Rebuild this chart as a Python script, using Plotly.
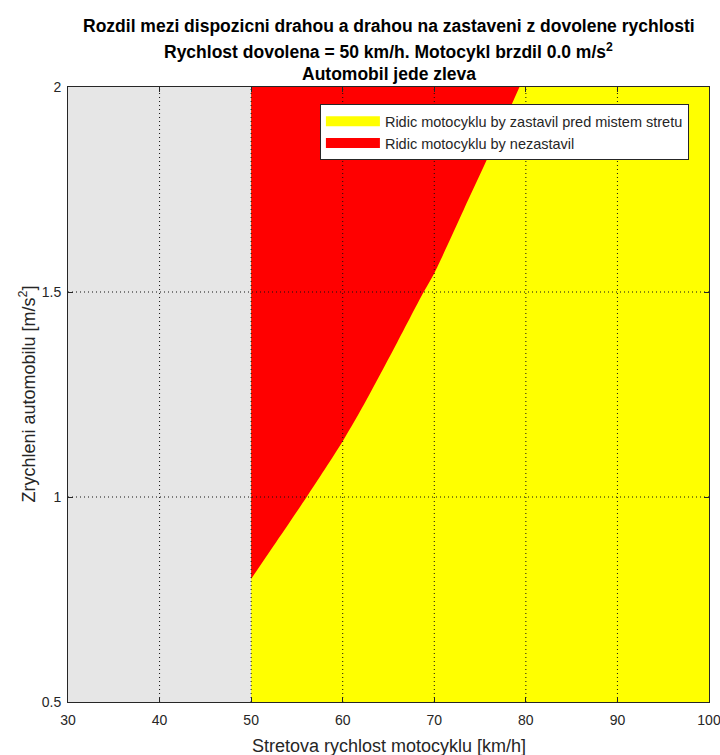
import plotly.graph_objects as go

# Axis extents and ticks
speed_range = [30, 100]
accel_range = [0.5, 2.0]
speed_ticks = [30, 40, 50, 60, 70, 80, 90, 100]
accel_ticks = [0.5, 1.0, 1.5, 2.0]
accel_tick_labels = ["0.5", "1", "1.5", "2"]

# Allowed speed: below it the comparison is not defined
allowed_speed = 50

# Boundary between "stops in time" and "does not stop"
speed_kmh = [50, 52.4, 56.06, 60, 62.6, 65.6, 68.84, 70, 73.2, 76.1, 79.3]
accel_threshold = [0.80, 0.879, 1.0, 1.136, 1.237, 1.362, 1.5, 1.546, 1.70, 1.84, 2.0]

legend_names = ["Ridic motocyklu by zastavil pred mistem stretu",
                "Ridic motocyklu by nezastavil"]
title_lines = ["Rozdil mezi dispozicni drahou a drahou na zastaveni z dovolene rychlosti",
               "Rychlost dovolena = 50 km/h. Motocykl brzdil 0.0 m/s<sup>2</sup>",
               "Automobil jede zleva"]
x_title = "Stretova rychlost motocyklu [km/h]"
y_title = "Zrychleni automobilu [m/s<sup>2</sup>]"

FONT = "Liberation Sans, Arial, Helvetica, sans-serif"
TXT = "#262626"
YELLOW = "#ffff00"
RED = "#ff0000"

fig = go.Figure()

# Yellow: every speed above the allowed one
fig.add_trace(go.Scatter(
    x=[allowed_speed, speed_range[1], speed_range[1], allowed_speed, allowed_speed],
    y=[accel_range[0], accel_range[0], accel_range[1], accel_range[1], accel_range[0]],
    fill="toself", fillcolor=YELLOW, mode="lines", line=dict(width=0, color=YELLOW),
    showlegend=False, hoverinfo="skip"))

# Red: between the top of the axis and the smooth boundary curve
fig.add_trace(go.Scatter(
    x=speed_kmh, y=[accel_range[1]] * len(speed_kmh), mode="lines",
    line=dict(width=0, color=RED), showlegend=False, hoverinfo="skip"))
fig.add_trace(go.Scatter(
    x=speed_kmh, y=accel_threshold, mode="lines", fill="tonexty", fillcolor=RED,
    line=dict(width=0, color=RED, shape="spline", smoothing=0.8),
    showlegend=False, hoverinfo="skip"))

# Legend-only entries with wide colour swatches
for name, col in zip(legend_names, [YELLOW, RED]):
    fig.add_trace(go.Scatter(x=[None], y=[None], mode="lines", name=name,
                             line=dict(color=col, width=16)))

# Dotted grid over the filled regions
gx, gy = [], []
for t in speed_ticks[1:-1]:
    gx += [t, t, None]
    gy += [accel_range[0], accel_range[1], None]
for t in accel_ticks[1:-1]:
    gx += [speed_range[0], speed_range[1], None]
    gy += [t, t, None]
fig.add_trace(go.Scatter(x=gx, y=gy, mode="lines", showlegend=False, hoverinfo="skip",
                         line=dict(color="#111111", width=1, dash="1px,3px")))

annotations = []
for text, yp in zip(title_lines, [1.0992, 1.0585, 1.0211]):
    annotations.append(dict(text="<b>" + text + "</b>", xref="paper", yref="paper",
                            x=0.5, y=yp, xanchor="center", yanchor="middle",
                            showarrow=False, font=dict(family=FONT, size=17.5, color="black")))
annotations.append(dict(text=x_title, xref="paper", yref="paper", x=0.5, y=-0.0711,
                        xanchor="center", yanchor="middle", showarrow=False,
                        font=dict(family=FONT, size=18, color=TXT)))
annotations.append(dict(text=y_title, xref="paper", yref="paper", x=-0.0624, y=0.5,
                        xanchor="center", yanchor="middle", textangle=-90, showarrow=False,
                        font=dict(family=FONT, size=18, color=TXT)))

fig.update_layout(
    width=720, height=755,
    margin=dict(l=68, r=11, t=87, b=53, autoexpand=False),
    paper_bgcolor="white", plot_bgcolor="#e6e6e6",
    font=dict(family=FONT, color=TXT, size=14),
    annotations=annotations,
    legend=dict(x=0.393, y=0.972, xanchor="left", yanchor="top",
                bgcolor="white", bordercolor="#262626", borderwidth=1,
                font=dict(family=FONT, size=14.5, color=TXT),
                itemwidth=54, tracegroupgap=0, traceorder="normal"),
    showlegend=True,
)

fig.update_xaxes(
    range=speed_range, tickvals=speed_ticks, showgrid=False, zeroline=False,
    automargin=False, ticks="inside", ticklen=5, tickcolor=TXT, showline=True,
    linecolor=TXT, linewidth=1, mirror="ticks", layer="above traces",
    ticklabeloverflow="allow", ticklabelstandoff=5, tickfont=dict(size=14, color=TXT))
fig.update_yaxes(
    range=accel_range, tickvals=accel_ticks, ticktext=accel_tick_labels,
    showgrid=False, zeroline=False, automargin=False,
    ticks="inside", ticklen=5, tickcolor=TXT, showline=True, linecolor=TXT,
    linewidth=1, mirror="ticks", layer="above traces",
    ticklabeloverflow="allow", ticklabelstandoff=3, tickfont=dict(size=14, color=TXT))

fig.write_html("out.html")
